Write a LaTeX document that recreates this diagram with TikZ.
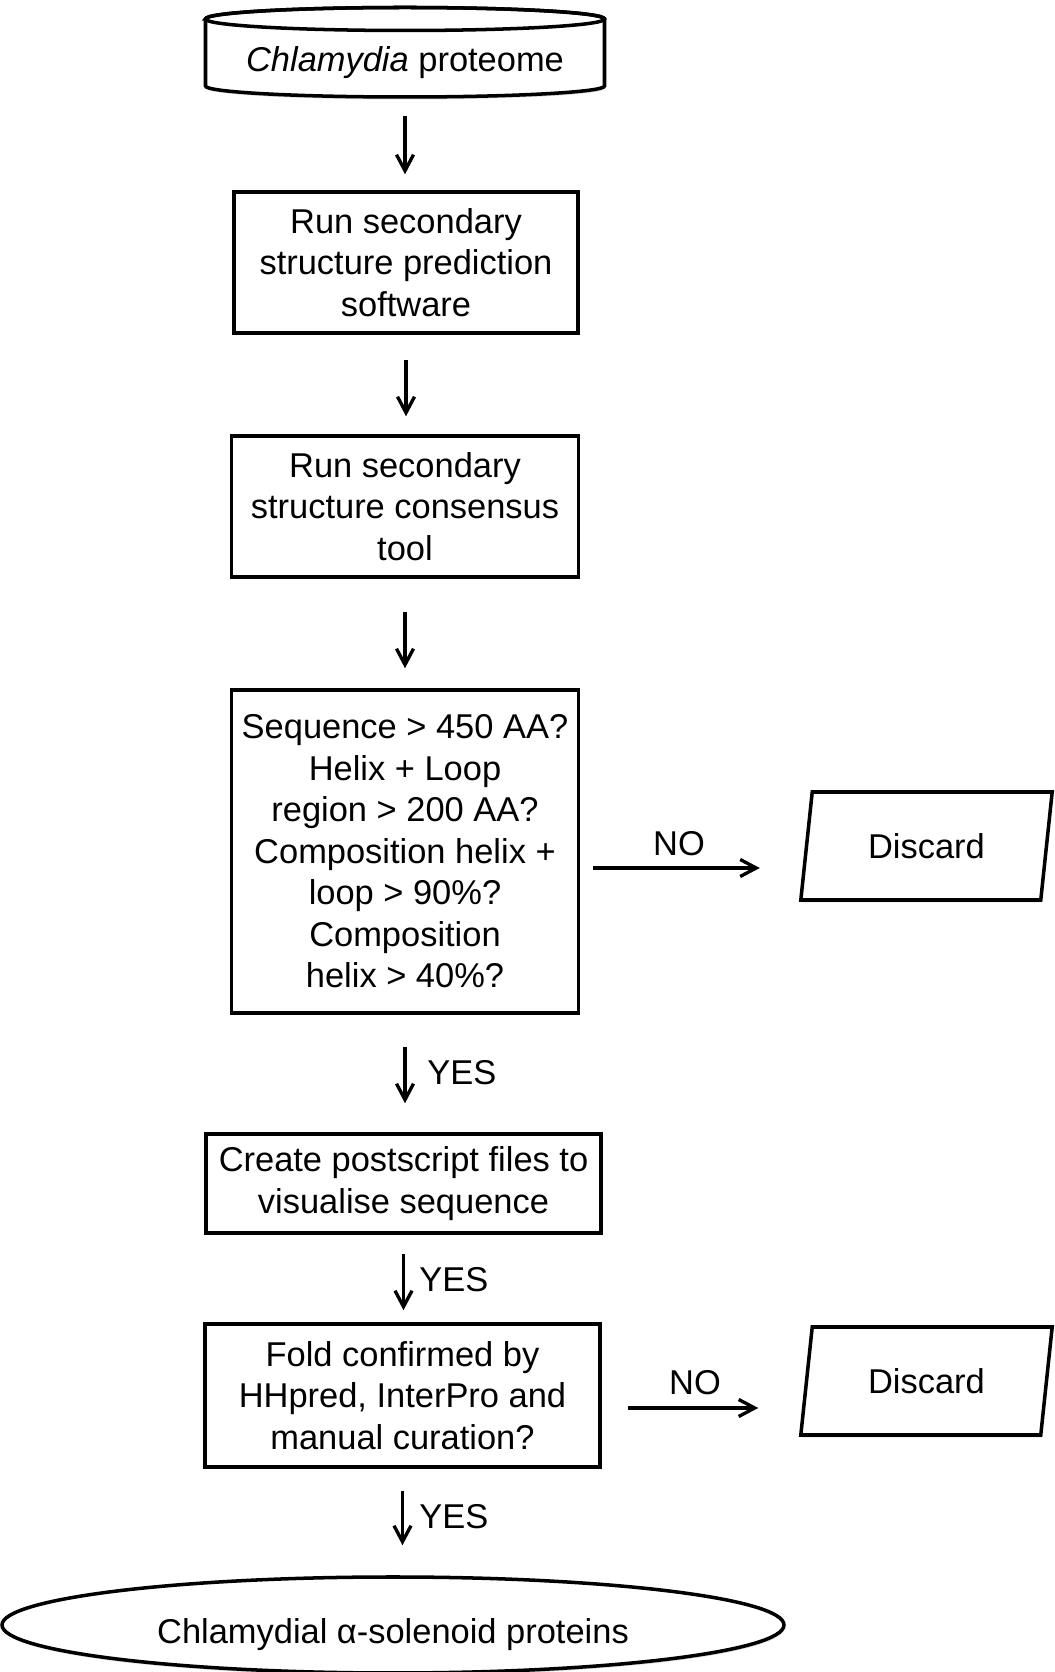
\documentclass[tikz,border=0pt]{standalone}
\usepackage{fontspec}
\setmainfont{Liberation Sans}
\usepackage{tikz}
\usetikzlibrary{shapes.geometric,arrows.meta,shadows}

\tikzset{
  every node/.style={font=\fontsize{19.6}{23.6}\selectfont},
  soft/.style={drop shadow={shadow xshift=0.4pt,shadow yshift=-1.4pt,opacity=0.3}},
  stepbox/.style={draw,line width=2pt,fill=white,align=center,inner sep=0pt,soft},
  slantbox/.style={draw,line width=2pt,fill=white,inner sep=0pt,soft,trapezium,
    trapezium left angle=77,trapezium right angle=103,trapezium stretches=true,
    minimum width=5.06cm,minimum height=2.16cm},
  flow/.style={line width=1.9pt,-{Straight Barb[length=3.2mm,width=3.4mm]}}
}

\begin{document}
\begin{tikzpicture}

\useasboundingbox (0,0) rectangle (21.1,33.44);

% database at the top
\draw[line width=2pt,fill=white,soft] (4.11,33.06) -- (4.11,31.72) arc (180:360:3.99 and 0.22) -- (12.09,33.06) arc (0:180:3.99 and 0.23) -- cycle;
\draw[line width=2pt] (8.1,33.06) ellipse (3.99 and 0.23);
\node (proteome) at (8.1,32.18) [minimum height=1.4cm] {\textit{Chlamydia} proteome};

% main column
\node[stepbox,minimum width=6.88cm,minimum height=2.82cm] (predict) at (8.12,28.19) {Run secondary\\structure prediction\\software};
\node[stepbox,minimum width=6.94cm,minimum height=2.82cm] (consensus) at (8.1,23.31) {Run secondary\\structure consensus\\tool};
\node[stepbox,minimum width=6.94cm,minimum height=6.46cm] (filter) at (8.1,16.41) {Sequence > 450 AA?\\Helix + Loop\\region > 200 AA?\\Composition helix +\\loop > 90\%?\\Composition\\helix > 40\%?};
\node[stepbox,minimum width=7.9cm,minimum height=1.98cm] (postscript) at (8.07,9.77) {Create postscript files to\\visualise sequence};
\node[stepbox,minimum width=7.9cm,minimum height=2.86cm] (fold) at (8.05,5.53) {Fold confirmed by\\HHpred, InterPro and\\manual curation?};
\node[ellipse,draw,line width=2pt,fill=white,soft,inner sep=0pt,text height=0.9cm,minimum width=15.64cm,minimum height=1.92cm] (result) at (7.86,0.94) {Chlamydial α-solenoid proteins};

% rejected branches
\node[slantbox] (discardA) at (18.53,16.52) {Discard};
\node[slantbox] (discardB) at (18.53,5.82) {Discard};

\draw[flow,shorten <=3.5mm,shorten >=3.2mm] (proteome.south) -- (proteome.south |- predict.north);
\draw[flow,shorten <=5mm,shorten >=3.6mm] (predict.south) -- (predict.south |- consensus.north);
\draw[flow,shorten <=6.6mm,shorten >=4mm] (consensus.south) -- (consensus.south |- filter.north);
\draw[flow,shorten <=6.4mm,shorten >=5.8mm] (filter.south) -- (filter.south |- postscript.north);
\draw[flow,shorten <=3.8mm,shorten >=2.4mm] (postscript.south) -- (postscript.south |- fold.north);
\draw[flow,shorten <=4.4mm,shorten >=6mm] (fold.south) -- (fold.south |- result.north);

\draw[flow,shorten <=2.6mm,shorten >=9mm] ([yshift=-3.3mm]filter.east) -- ([yshift=-3.3mm]filter.east -| discardA.west);
\draw[flow,shorten <=5.2mm,shorten >=9.3mm] ([yshift=-2.5mm]fold.east) -- ([yshift=-2.5mm]fold.east -| discardB.west);

\node[anchor=west,inner sep=0pt] (yesA) at (8.54,11.98) {YES};
\node[anchor=west,inner sep=0pt] (yesB) at (8.38,7.84) {YES};
\node[anchor=west,inner sep=0pt] (yesC) at (8.38,3.10) {YES};
\node (noA) at (13.58,16.56) {NO};
\node (noB) at (13.9,5.78) {NO};

\end{tikzpicture}
\end{document}
